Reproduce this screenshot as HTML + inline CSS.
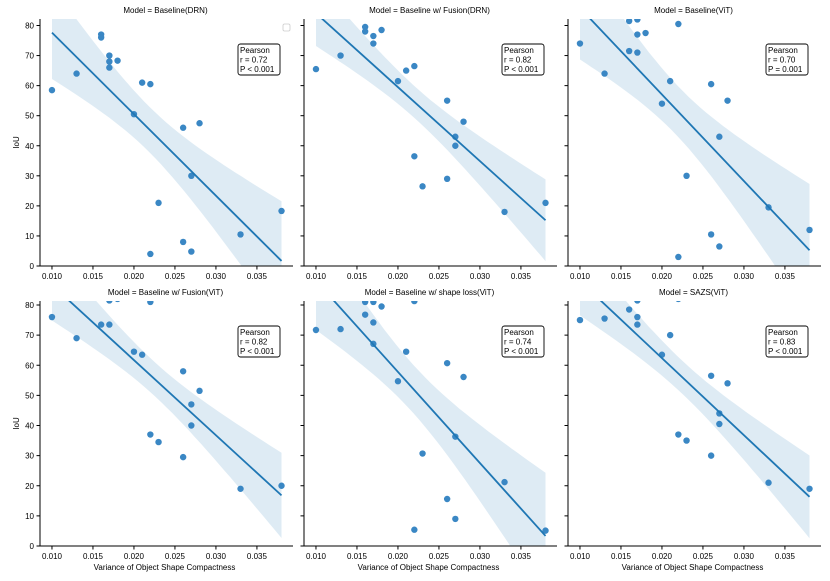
<!DOCTYPE html>
<html><head><meta charset="utf-8"><style>
body{margin:0;background:#fff;}
svg{display:block;font-family:"Liberation Sans","DejaVu Sans",sans-serif;}
</style></head><body>
<svg id="chart" width="830" height="581" viewBox="0 0 830 581" xmlns="http://www.w3.org/2000/svg"></svg>
<script>
const titles=["Baseline(DRN)","Baseline w/ Fusion(DRN)","Baseline(ViT)","Baseline w/ Fusion(ViT)","Baseline w/ shape loss(ViT)","SAZS(ViT)"];
const pearsonR=["0.72","0.82","0.70","0.82","0.74","0.83"];
const pearsonP=["P < 0.001","P < 0.001","P = 0.001","P < 0.001","P < 0.001","P < 0.001"];
const xTicks=[0.010,0.015,0.020,0.025,0.030,0.035];
const yTicks=[0,10,20,30,40,50,60,70,80];
const xs1=[0.010,0.013,0.016,0.016,0.017,0.017,0.017,0.018,0.020,0.021,0.022,0.022,0.023,0.026,0.026,0.027,0.027,0.028,0.033,0.038];
const ys1=[58.5,64,77,76,70,68,66,68.3,50.5,61,60.5,4,21,46,8,30,4.8,47.5,10.5,18.3];
const xs2=[0.010,0.013,0.016,0.016,0.017,0.017,0.018,0.020,0.021,0.022,0.022,0.023,0.026,0.026,0.027,0.027,0.028,0.033,0.038];
const ys2=[65.5,70,79.5,78,76.5,74,78.5,61.5,65,66.5,36.5,26.5,55,29,43,40,48,18,21];
const xs3=[0.010,0.013,0.016,0.016,0.017,0.017,0.017,0.018,0.020,0.021,0.022,0.022,0.023,0.026,0.026,0.027,0.027,0.028,0.033,0.038];
const ys3=[74,64,81.5,71.5,82,77,71,77.5,54,61.5,80.5,3,30,60.5,10.5,43,6.5,55,19.5,12];
const xs4=[0.010,0.013,0.016,0.017,0.017,0.018,0.020,0.021,0.022,0.022,0.023,0.026,0.026,0.027,0.027,0.028,0.033,0.038];
const ys4=[76,69,73.5,81.5,73.5,82,64.5,63.5,81,37,34.5,58,29.5,47,40,51.5,19,20];
const xs5=[0.010,0.013,0.016,0.016,0.017,0.017,0.017,0.018,0.020,0.021,0.022,0.022,0.023,0.026,0.026,0.027,0.027,0.028,0.033,0.038];
const ys5=[71.7,72,81,76.8,81,74.2,67.1,79.5,54.7,64.5,81.3,5.4,30.7,60.7,15.6,36.3,9,56.1,21.2,5.1];
const xs6=[0.010,0.013,0.016,0.017,0.017,0.017,0.020,0.021,0.022,0.022,0.023,0.026,0.026,0.027,0.027,0.028,0.033,0.038];
const ys6=[75,75.5,78.5,81.5,73.5,76,63.5,70,82,37,35,56.5,30,44,40.5,54,21,19];
const XS=[xs1,xs2,xs3,xs4,xs5,xs6], YS=[ys1,ys2,ys3,ys4,ys5,ys6];

const svg=document.getElementById('chart');
const NS="http://www.w3.org/2000/svg";
function mk(tag,attrs,parent){const e=document.createElementNS(NS,tag);for(const k in attrs)e.setAttribute(k,attrs[k]);(parent||svg).appendChild(e);return e;}
const lefts=[40,304,568], W=253, XMIN=0.00854, XMAX=0.0394;
const rows=[{top:19,y0:266,y80:25.5},{top:301,y0:546,y80:305}];
const defs=mk('defs',{});
for(let p=0;p<6;p++){
  const col=p%3,row=Math.floor(p/3),L=lefts[col],R=rows[row];
  const sx=v=>L+(v-XMIN)/(XMAX-XMIN)*W;
  const sy=v=>R.y0-(v/80)*(R.y0-R.y80);
  const g=mk('g',{});
  
  
  const cp=mk('clipPath',{id:'cp'+p},defs);
  mk('rect',{x:L,y:R.top,width:W,height:R.y0-R.top},cp);
  const xs=XS[p],ys=YS[p],n=xs.length;
  let mx=0,my=0;for(let i=0;i<n;i++){mx+=xs[i];my+=ys[i];}mx/=n;my/=n;
  let sxx=0,sxy=0;for(let i=0;i<n;i++){sxx+=(xs[i]-mx)**2;sxy+=(xs[i]-mx)*(ys[i]-my);}
  const b=sxy/sxx,a=my-b*mx;
  let sse=0;for(let i=0;i<n;i++)sse+=(ys[i]-a-b*xs[i])**2;
  const s=Math.sqrt(sse/(n-2)),t=1.85;
  const x0=Math.min(...xs),x1=Math.max(...xs);
  let up=[],dn=[];
  for(let k=0;k<=40;k++){const x=x0+(x1-x0)*k/40;const yh=a+b*x;const se=t*s*Math.sqrt(1/n+(x-mx)**2/sxx);
    up.push(sx(x).toFixed(1)+','+sy(yh+se).toFixed(1));dn.unshift(sx(x).toFixed(1)+','+sy(yh-se).toFixed(1));}
  const band=mk('polygon',{points:up.concat(dn).join(' '),fill:'#1f77b4','fill-opacity':0.15,'clip-path':'url(#cp'+p+')'},g);
  
  
  for(let i=0;i<n;i++){
    const c=mk('circle',{cx:sx(xs[i]),cy:sy(ys[i]),r:3.2,fill:'#3a87c4','clip-path':'url(#cp'+p+')'},g);
    
    
  }
  const ln=mk('line',{x1:sx(x0),y1:sy(a+b*x0),x2:sx(x1),y2:sy(a+b*x1),stroke:'#1f77b4','stroke-width':1.8,'clip-path':'url(#cp'+p+')'},g);
  
  
  mk('line',{x1:L,y1:R.top,x2:L,y2:R.y0,stroke:'#000','stroke-width':1},g);
  mk('line',{x1:L,y1:R.y0,x2:L+W,y2:R.y0,stroke:'#000','stroke-width':1},g);
  xTicks.forEach(v=>{const x=sx(v);mk('line',{x1:x,y1:R.y0,x2:x,y2:R.y0+3.5,stroke:'#000'},g);
    const tx=mk('text',{x:x,y:R.y0+13,'font-size':8,'text-anchor':'middle',fill:'#000'},g);tx.textContent=v.toFixed(3);
    });
  yTicks.forEach(v=>{const y=sy(v);mk('line',{x1:L-3.5,y1:y,x2:L,y2:y,stroke:'#000'},g);
    if(col===0){const ty=mk('text',{x:L-6,y:y+3,'font-size':8,'text-anchor':'end',fill:'#000'},g);ty.textContent=v;
      }});
  const tt=mk('text',{x:L+W/2-1,y:R.top-6,'font-size':8,'text-anchor':'middle',fill:'#000'},g);
  tt.textContent='Model = '+titles[p];
  
  
  if(col===0){const yl=mk('text',{x:0,y:0,'font-size':8,'text-anchor':'middle',transform:`translate(${L-21},${(R.top+R.y0)/2}) rotate(-90)`},g);yl.textContent='IoU';
    }
  if(row===1){const xl=mk('text',{x:L+W/2-2,y:R.y0+24,'font-size':8,'text-anchor':'middle'},g);xl.textContent='Variance of Object Shape Compactness';
    }
  const bx=L+198, by=R.top+25;
  const box=mk('g',{},g);
  
  
  mk('rect',{x:bx,y:by,width:42,height:31,rx:2.5,fill:'#fff',stroke:'#000','stroke-width':0.9},box);
  ['Pearson','r = '+pearsonR[p],pearsonP[p]].forEach((s2,i)=>{const t2=mk('text',{x:bx+2,y:by+9+i*9.5,'font-size':8},box);t2.textContent=s2;});
  if(p===0){const lg=mk('rect',{x:283,y:24,width:7,height:7,rx:1.5,fill:'#fff',stroke:'#ccc','stroke-width':0.8},g);
    }
}
</script>
</body></html>
